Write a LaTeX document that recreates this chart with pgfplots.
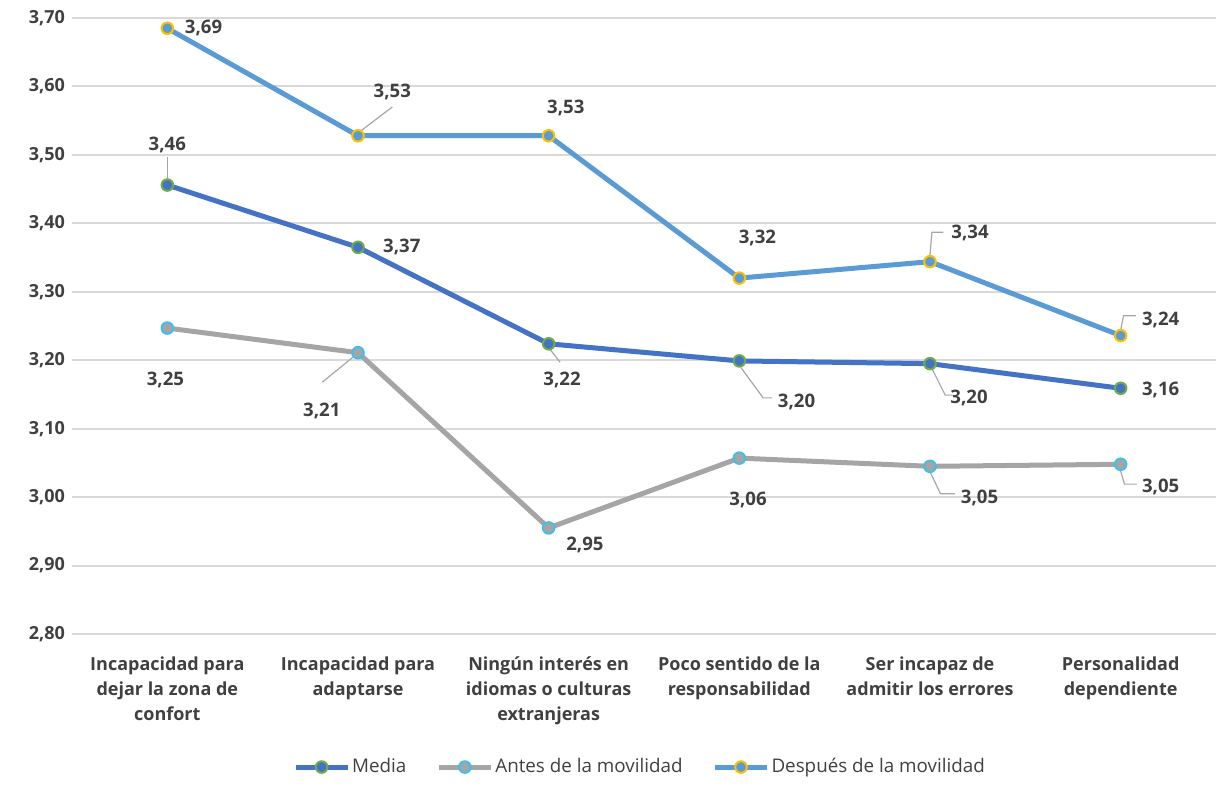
\documentclass[border=0pt]{standalone}
\usepackage{fontspec}
\setmainfont{Open Sans}
\usepackage{pgfplots}
\pgfplotsset{compat=1.18}
\definecolor{txt}{HTML}{404040}
\definecolor{grd}{HTML}{D9D9D9}
\definecolor{cMedia}{HTML}{4472C4}
\definecolor{cMediaO}{HTML}{70AD47}
\definecolor{cAntes}{HTML}{A5A5A5}
\definecolor{cAntesO}{HTML}{3FBFEA}
\definecolor{cDesp}{HTML}{5B9BD5}
\definecolor{cDespO}{HTML}{FFC000}
\definecolor{lead}{HTML}{A6A6A6}

\begin{document}
\begin{tikzpicture}[font=\fontsize{9}{12.5}\selectfont]
\useasboundingbox (-36pt,-85.5pt) rectangle (572pt,317pt);
\begin{axis}[
  at={(0,0)}, anchor=south west,
  scale only axis, width=572pt, height=308pt,
  xmin=-0.5, xmax=5.5, ymin=2.8, ymax=3.7,
  clip=false,
  ytick={2.8,2.9,3.0,3.1,3.2,3.3,3.4,3.5,3.6,3.7},
  xtick={0,1,2,3,4,5},
  xticklabels={{Incapacidad para\\dejar la zona de\\confort},
               {Incapacidad para\\adaptarse},
               {Ningún interés en\\idiomas o culturas\\extranjeras},
               {Poco sentido de la\\responsabilidad},
               {Ser incapaz de\\admitir los errores},
               {Personalidad\\dependiente}},
  xticklabel style={align=center, yshift=-8pt, font=\fontsize{9}{12.5}\selectfont\bfseries, text=txt},
  yticklabel style={font=\fontsize{9}{12.5}\selectfont\bfseries, text=txt,
    /pgf/number format/.cd, fixed, fixed zerofill, precision=2, use comma, assume math mode=true},
  axis line style={draw=none},
  major tick length=0pt,
  ymajorgrids, grid style={grd, line width=1pt},
  legend columns=3,
  legend style={draw=none, fill=none, at={(0.4965,-0.216)}, anchor=center,
    font=\fontsize{9.4}{11}\selectfont, text=txt,
    nodes={inner xsep=1pt},
    /tikz/every even column/.append style={column sep=14pt}},
  legend image code/.code={\draw[mark repeat=2,mark phase=2,#1]
    plot coordinates {(0pt,0pt)(13pt,0pt)(26pt,0pt)};},
]
\addplot[cMedia, line width=2.5pt, mark=*, mark size=2.9pt,
  mark options={fill=cMedia, draw=cMediaO, line width=1pt}]
  coordinates {(0,3.456) (1,3.365) (2,3.224) (3,3.199) (4,3.195) (5,3.159)};
\addlegendentry{Media}
\addplot[cAntes, line width=2.5pt, mark=*, mark size=2.9pt,
  mark options={fill=cAntes, draw=cAntesO, line width=1pt}]
  coordinates {(0,3.247) (1,3.211) (2,2.955) (3,3.057) (4,3.045) (5,3.048)};
\addlegendentry{Antes de la movilidad}
\addplot[cDesp, line width=2.5pt, mark=*, mark size=2.9pt,
  mark options={fill=cDesp, draw=cDespO, line width=1pt}]
  coordinates {(0,3.685) (1,3.528) (2,3.528) (3,3.320) (4,3.344) (5,3.236)};
\addlegendentry{Después de la movilidad}

% leader lines
\draw[lead, line width=0.6pt] (axis cs:0,3.466) -- (axis cs:0,3.497);
\draw[lead, line width=0.6pt] (axis cs:2.01,3.215) -- (axis cs:2.06,3.197);
\draw[lead, line width=0.6pt] (axis cs:3.009,3.189) -- (axis cs:3.125,3.145) -- (axis cs:3.172,3.145);
\draw[lead, line width=0.6pt] (axis cs:4.01,3.188) -- (axis cs:4.08,3.149) -- (axis cs:4.12,3.149);
\draw[lead, line width=0.6pt] (axis cs:0.976,3.205) -- (axis cs:0.813,3.168);
\draw[lead, line width=0.6pt] (axis cs:4.0,3.037) -- (axis cs:4.055,3.005) -- (axis cs:4.13,3.005);
\draw[lead, line width=0.6pt] (axis cs:5.0,3.038) -- (axis cs:5.02,3.019) -- (axis cs:5.085,3.019);
\draw[lead, line width=0.6pt] (axis cs:1.0,3.532) -- (axis cs:1.18,3.570);
\draw[lead, line width=0.6pt] (axis cs:4.0,3.354) -- (axis cs:4.01,3.387) -- (axis cs:4.07,3.387);
\draw[lead, line width=0.6pt] (axis cs:5.0,3.244) -- (axis cs:5.015,3.265) -- (axis cs:5.08,3.265);

% data labels
\tikzset{lbl/.style={font=\fontsize{9.3}{11}\selectfont\bfseries, text=txt, inner sep=0pt}}
\node[lbl] at (axis cs:0,3.515) {3,46};
\node[lbl] at (axis cs:1.23,3.365) {3,37};
\node[lbl] at (axis cs:2.07,3.171) {3,22};
\node[lbl] at (axis cs:3.30,3.139) {3,20};
\node[lbl] at (axis cs:4.205,3.145) {3,20};
\node[lbl] at (axis cs:5.21,3.157) {3,16};

\node[lbl] at (axis cs:-0.01,3.171) {3,25};
\node[lbl] at (axis cs:0.81,3.126) {3,21};
\node[lbl] at (axis cs:2.19,2.930) {2,95};
\node[lbl] at (axis cs:3.046,2.996) {3,06};
\node[lbl] at (axis cs:4.26,2.999) {3,05};
\node[lbl] at (axis cs:5.21,3.015) {3,05};

\node[lbl] at (axis cs:0.19,3.685) {3,69};
\node[lbl] at (axis cs:1.18,3.592) {3,53};
\node[lbl] at (axis cs:2.09,3.569) {3,53};
\node[lbl] at (axis cs:3.095,3.379) {3,32};
\node[lbl] at (axis cs:4.21,3.386) {3,34};
\node[lbl] at (axis cs:5.21,3.259) {3,24};
\end{axis}
\end{tikzpicture}
\end{document}
